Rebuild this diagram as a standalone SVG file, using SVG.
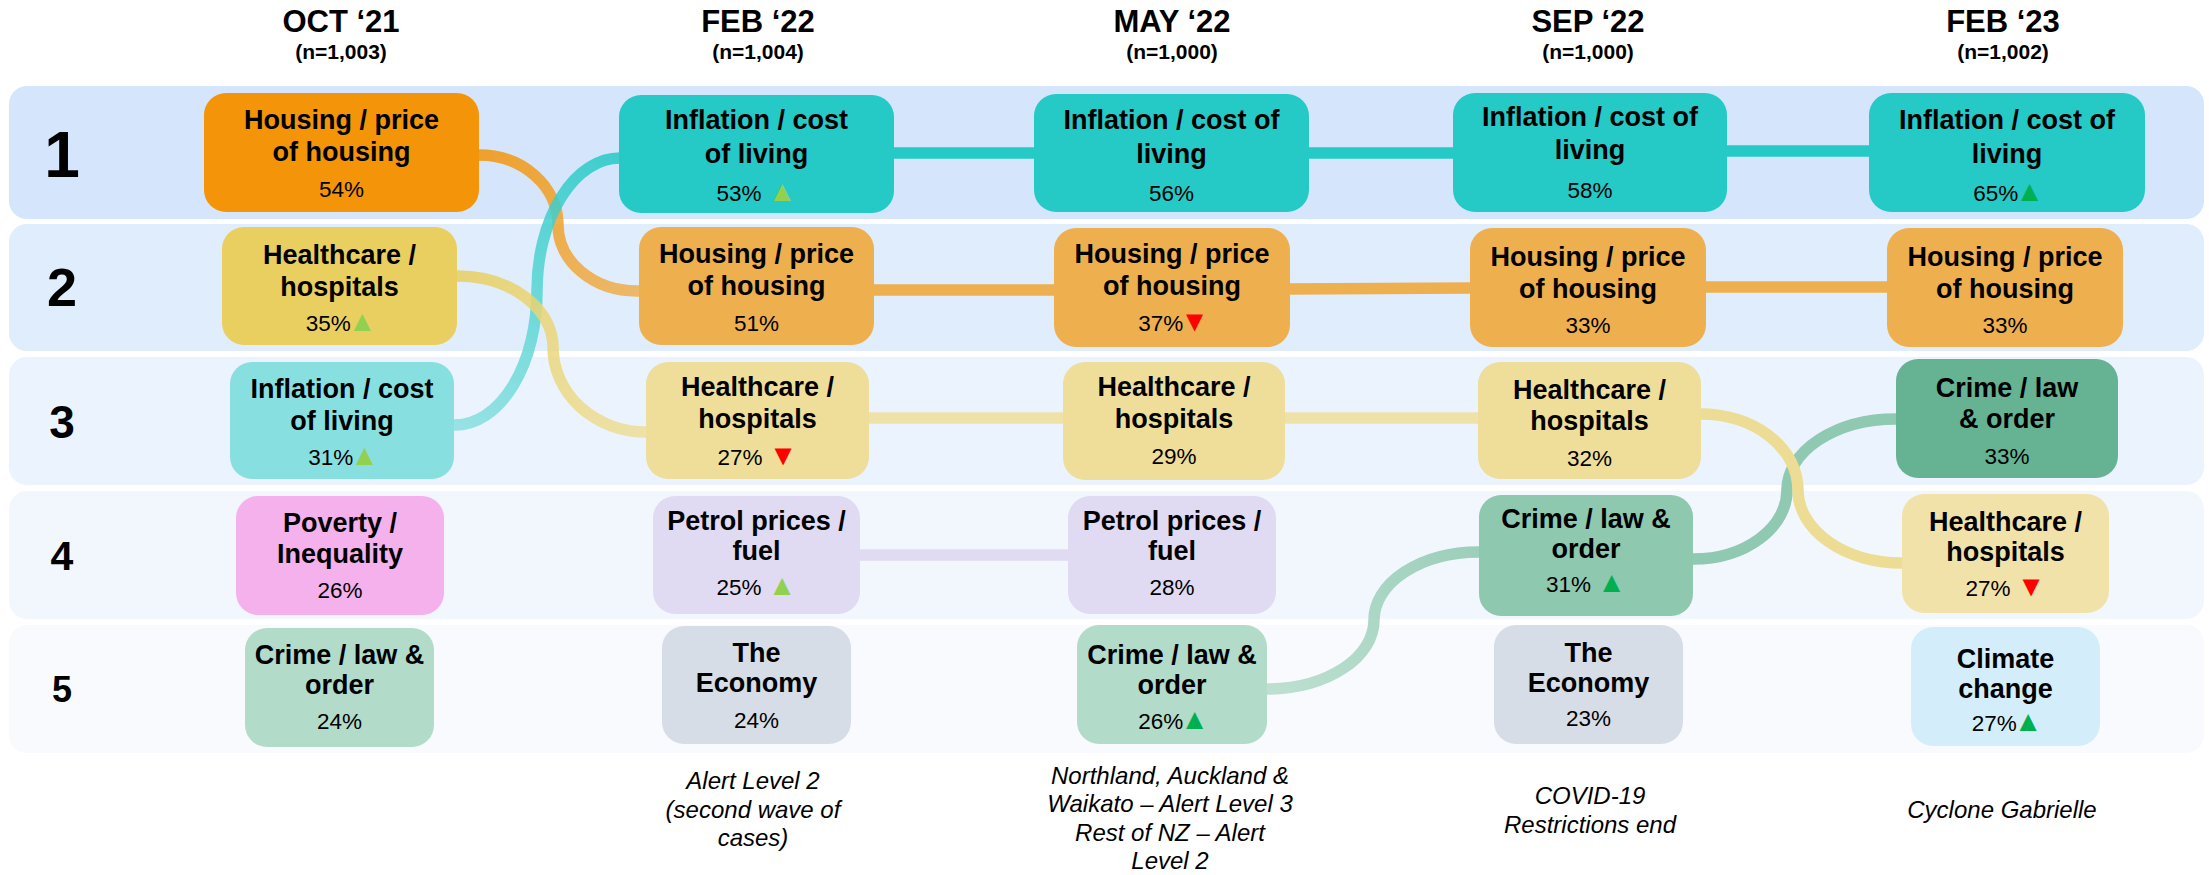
<svg xmlns="http://www.w3.org/2000/svg" width="2209" height="875" viewBox="0 0 2209 875">
<defs>
<style>
text{font-family:"Liberation Sans",Arial,sans-serif;fill:#000;text-anchor:middle}
.h{font-size:31px;font-weight:bold}
.n{font-size:21px;font-weight:bold}
.r{font-weight:bold}
.t{font-size:27px;font-weight:bold}
.p{font-size:22.5px}
.a{font-size:24px;font-style:italic}
.tri{font-size:29px}
.g1{fill:#92D050}
.g2{fill:#00B050}
.dn{fill:#FF0000}
.band{stroke:none}
.box{stroke:none}
.lk{fill:none;stroke-width:11.5}
.cv{fill:none;stroke-width:11.5;stroke-opacity:0.85}
</style>
<linearGradient id="gOrange" gradientUnits="userSpaceOnUse" x1="479" y1="155" x2="637" y2="291"><stop offset="0" stop-color="#F39409"/><stop offset="1" stop-color="#EEAF4F"/></linearGradient>
<linearGradient id="gCyan" gradientUnits="userSpaceOnUse" x1="455" y1="425" x2="620" y2="158"><stop offset="0" stop-color="#88DFE0"/><stop offset="1" stop-color="#25C9C5"/></linearGradient>
<linearGradient id="gYellow" gradientUnits="userSpaceOnUse" x1="457" y1="276" x2="646" y2="432"><stop offset="0" stop-color="#E8CF5F"/><stop offset="1" stop-color="#EEDE9A"/></linearGradient>
<linearGradient id="gGreen" gradientUnits="userSpaceOnUse" x1="1267" y1="689" x2="1479" y2="552"><stop offset="0" stop-color="#B3DBC9"/><stop offset="1" stop-color="#8DC8AF"/></linearGradient>
</defs>

<rect width="2209" height="875" fill="#FFFFFF"/>

<g id="bands">
<rect class="band" x="9" y="86" width="2195" height="133" rx="18" fill="#D5E6FC"/>
<rect class="band" x="9" y="224" width="2195" height="127" rx="18" fill="#E0EDFC"/>
<rect class="band" x="9" y="357" width="2195" height="128" rx="18" fill="#EBF4FE"/>
<rect class="band" x="9" y="491" width="2195" height="128" rx="18" fill="#F2F7FE"/>
<rect class="band" x="9" y="625" width="2195" height="128" rx="18" fill="#F8FAFE"/>
</g>

<g id="headers">
<text class="h" x="341" y="32">OCT ‘21</text><text class="n" x="341" y="59">(n=1,003)</text>
<text class="h" x="758" y="32">FEB ‘22</text><text class="n" x="758" y="59">(n=1,004)</text>
<text class="h" x="1172" y="32">MAY ‘22</text><text class="n" x="1172" y="59">(n=1,000)</text>
<text class="h" x="1588" y="32">SEP ‘22</text><text class="n" x="1588" y="59">(n=1,000)</text>
<text class="h" x="2003" y="32">FEB ‘23</text><text class="n" x="2003" y="59">(n=1,002)</text>
</g>

<g id="ranks">
<text class="r" x="62" y="177" font-size="64">1</text>
<text class="r" x="62" y="306" font-size="54">2</text>
<text class="r" x="62" y="438" font-size="46">3</text>
<text class="r" x="62" y="570" font-size="41">4</text>
<text class="r" x="62" y="702" font-size="36">5</text>
</g>

<g id="connectors">
<path class="lk" d="M890,153 H1038" stroke="#25C9C5"/>
<path class="lk" d="M1305,153 H1457" stroke="#25C9C5"/>
<path class="lk" d="M1723,151 H1873" stroke="#25C9C5"/>
<path class="lk" d="M870,290 H1058" stroke="#EEAF4F"/>
<path class="lk" d="M1286,289 L1474,288" stroke="#EEAF4F"/>
<path class="lk" d="M1702,287 H1891" stroke="#EEAF4F"/>
<path class="lk" d="M865,418 H1067" stroke="#EEDE9A" stroke-opacity="0.85"/>
<path class="lk" d="M1281,418 H1482" stroke="#EEDE9A" stroke-opacity="0.85"/>
<path class="lk" d="M856,555 H1072" stroke="#E0DBF3"/>
<path class="cv" d="M475,155 H479 A79,70 0 0 1 558,225 A79,66 0 0 0 637,291 H642" stroke="url(#gOrange)"/>
<path class="cv" d="M451,425 H455 A82,134 0 0 0 537,291 A83,133 0 0 1 620,158 H623" stroke="url(#gCyan)"/>
<path class="cv" d="M453,276 H457 A96,71 0 0 1 553,347 A93,85 0 0 0 646,432 H650" stroke="url(#gYellow)"/>
<path class="cv" d="M1263,689 H1267 A107,69 0 0 0 1374,620 A105,68 0 0 1 1479,552 H1483" stroke="url(#gGreen)"/>
<path class="lk" d="M1689,559 H1693 A94,69 0 0 0 1787,490 A109,71 0 0 1 1896,419 H1900" stroke="#8FC9B1"/>
<path class="lk" d="M1697,414 H1701 A97,76 0 0 1 1798,490 A104,73 0 0 0 1902,563 H1906" stroke="#EDDC93"/>
</g>

<g id="oct-housing"><rect class="box" x="204" y="93" width="275" height="119" rx="22" fill="#F39409"/>
<text class="t" x="341.5" y="129">Housing / price</text><text class="t" x="341.5" y="161">of housing</text><text class="p" x="341.5" y="197">54%</text></g>
<g id="oct-health"><rect class="box" x="222" y="227" width="235" height="118" rx="22" fill="#E8CF5F"/>
<text class="t" x="339.5" y="264">Healthcare /</text><text class="t" x="339.5" y="296">hospitals</text><text class="p" x="341" y="331">35%<tspan class="tri g1" dx="-3">▲</tspan></text></g>
<g id="oct-inflation"><rect class="box" x="230" y="362" width="224" height="117" rx="22" fill="#88DFE0"/>
<text class="t" x="342" y="398">Inflation / cost</text><text class="t" x="342" y="430">of living</text><text class="p" x="343.5" y="465">31%<tspan class="tri g1" dx="-3">▲</tspan></text></g>
<g id="oct-poverty"><rect class="box" x="236" y="496" width="208" height="119" rx="22" fill="#F5B1EB"/>
<text class="t" x="340" y="532">Poverty /</text><text class="t" x="340" y="563">Inequality</text><text class="p" x="340" y="598">26%</text></g>
<g id="oct-crime"><rect class="box" x="245" y="628" width="189" height="119" rx="22" fill="#B3DBC9"/>
<text class="t" x="339.5" y="664">Crime / law &amp;</text><text class="t" x="339.5" y="694">order</text><text class="p" x="339.5" y="729">24%</text></g>

<g id="feb22-inflation"><rect class="box" x="619" y="95" width="275" height="118" rx="22" fill="#25C9C5"/>
<text class="t" x="756.5" y="129">Inflation / cost</text><text class="t" x="756.5" y="163">of living</text><text class="p" x="756.5" y="201">53% <tspan class="tri g1">▲</tspan></text></g>
<g id="feb22-housing"><rect class="box" x="639" y="227" width="235" height="118" rx="22" fill="#EEAF4F"/>
<text class="t" x="756.5" y="263">Housing / price</text><text class="t" x="756.5" y="295">of housing</text><text class="p" x="756.5" y="331">51%</text></g>
<g id="feb22-health"><rect class="box" x="646" y="362" width="223" height="117" rx="22" fill="#EEDE9A"/>
<text class="t" x="757.5" y="396">Healthcare /</text><text class="t" x="757.5" y="428">hospitals</text><text class="p" x="757.5" y="465">27% <tspan class="tri dn">▼</tspan></text></g>
<g id="feb22-petrol"><rect class="box" x="653" y="496" width="207" height="118" rx="22" fill="#E0DBF3"/>
<text class="t" x="756.5" y="530">Petrol prices /</text><text class="t" x="756.5" y="560">fuel</text><text class="p" x="756.5" y="595">25% <tspan class="tri g1">▲</tspan></text></g>
<g id="feb22-economy"><rect class="box" x="662" y="626" width="189" height="118" rx="22" fill="#D6DDE6"/>
<text class="t" x="756.5" y="662">The</text><text class="t" x="756.5" y="692">Economy</text><text class="p" x="756.5" y="728">24%</text></g>

<g id="may22-inflation"><rect class="box" x="1034" y="94" width="275" height="118" rx="22" fill="#25C9C5"/>
<text class="t" x="1171.5" y="129">Inflation / cost of</text><text class="t" x="1171.5" y="163">living</text><text class="p" x="1171.5" y="201">56%</text></g>
<g id="may22-housing"><rect class="box" x="1054" y="228" width="236" height="119" rx="22" fill="#EEAF4F"/>
<text class="t" x="1172" y="263">Housing / price</text><text class="t" x="1172" y="295">of housing</text><text class="p" x="1173.5" y="331">37%<tspan class="tri dn" dx="-3">▼</tspan></text></g>
<g id="may22-health"><rect class="box" x="1063" y="362" width="222" height="118" rx="22" fill="#EEDE9A"/>
<text class="t" x="1174" y="396">Healthcare /</text><text class="t" x="1174" y="428">hospitals</text><text class="p" x="1174" y="464">29%</text></g>
<g id="may22-petrol"><rect class="box" x="1068" y="496" width="208" height="118" rx="22" fill="#E0DBF3"/>
<text class="t" x="1172" y="530">Petrol prices /</text><text class="t" x="1172" y="560">fuel</text><text class="p" x="1172" y="595">28%</text></g>
<g id="may22-crime"><rect class="box" x="1077" y="625" width="190" height="119" rx="22" fill="#B3DBC9"/>
<text class="t" x="1172" y="664">Crime / law &amp;</text><text class="t" x="1172" y="694">order</text><text class="p" x="1173.5" y="729">26%<tspan class="tri g2" dx="-3">▲</tspan></text></g>

<g id="sep22-inflation"><rect class="box" x="1453" y="93" width="274" height="119" rx="22" fill="#25C9C5"/>
<text class="t" x="1590" y="126">Inflation / cost of</text><text class="t" x="1590" y="159">living</text><text class="p" x="1590" y="198">58%</text></g>
<g id="sep22-housing"><rect class="box" x="1470" y="228" width="236" height="119" rx="22" fill="#EEAF4F"/>
<text class="t" x="1588" y="266">Housing / price</text><text class="t" x="1588" y="298">of housing</text><text class="p" x="1588" y="333">33%</text></g>
<g id="sep22-health"><rect class="box" x="1478" y="362" width="223" height="117" rx="22" fill="#EEDE9A"/>
<text class="t" x="1589.5" y="399">Healthcare /</text><text class="t" x="1589.5" y="430">hospitals</text><text class="p" x="1589.5" y="466">32%</text></g>
<g id="sep22-crime"><rect class="box" x="1479" y="495" width="214" height="121" rx="22" fill="#8DC8AF"/>
<text class="t" x="1586" y="528">Crime / law &amp;</text><text class="t" x="1586" y="558">order</text><text class="p" x="1586" y="592">31% <tspan class="tri g2">▲</tspan></text></g>
<g id="sep22-economy"><rect class="box" x="1494" y="625" width="189" height="119" rx="22" fill="#D6DDE6"/>
<text class="t" x="1588.5" y="662">The</text><text class="t" x="1588.5" y="692">Economy</text><text class="p" x="1588.5" y="726">23%</text></g>

<g id="feb23-inflation"><rect class="box" x="1869" y="93" width="276" height="119" rx="22" fill="#25C9C5"/>
<text class="t" x="2007" y="129">Inflation / cost of</text><text class="t" x="2007" y="163">living</text><text class="p" x="2008.5" y="201">65%<tspan class="tri g2" dx="-3">▲</tspan></text></g>
<g id="feb23-housing"><rect class="box" x="1887" y="228" width="236" height="119" rx="22" fill="#EEAF4F"/>
<text class="t" x="2005" y="266">Housing / price</text><text class="t" x="2005" y="298">of housing</text><text class="p" x="2005" y="333">33%</text></g>
<g id="feb23-crime"><rect class="box" x="1896" y="359" width="222" height="119" rx="22" fill="#66B394"/>
<text class="t" x="2007" y="397">Crime / law</text><text class="t" x="2007" y="428">&amp; order</text><text class="p" x="2007" y="464">33%</text></g>
<g id="feb23-health"><rect class="box" x="1902" y="494" width="207" height="119" rx="22" fill="#F0E2A8"/>
<text class="t" x="2005.5" y="531">Healthcare /</text><text class="t" x="2005.5" y="561">hospitals</text><text class="p" x="2005.5" y="596">27% <tspan class="tri dn">▼</tspan></text></g>
<g id="feb23-climate"><rect class="box" x="1911" y="627" width="189" height="119" rx="22" fill="#D3EEFA"/>
<text class="t" x="2005.5" y="668">Climate</text><text class="t" x="2005.5" y="698">change</text><text class="p" x="2007" y="731">27%<tspan class="tri g2" dx="-3">▲</tspan></text></g>

<g id="annotations">
<text class="a" x="753"><tspan x="753" y="789">Alert Level 2</tspan><tspan x="753" y="818">(second wave of</tspan><tspan x="753" y="846">cases)</tspan></text>
<text class="a" x="1170"><tspan x="1170" y="784">Northland, Auckland &amp;</tspan><tspan x="1170" y="812">Waikato – Alert Level 3</tspan><tspan x="1170" y="841">Rest of NZ – Alert</tspan><tspan x="1170" y="869">Level 2</tspan></text>
<text class="a" x="1590"><tspan x="1590" y="804">COVID-19</tspan><tspan x="1590" y="833">Restrictions end</tspan></text>
<text class="a" x="2002" y="818">Cyclone Gabrielle</text>
</g>
</svg>
